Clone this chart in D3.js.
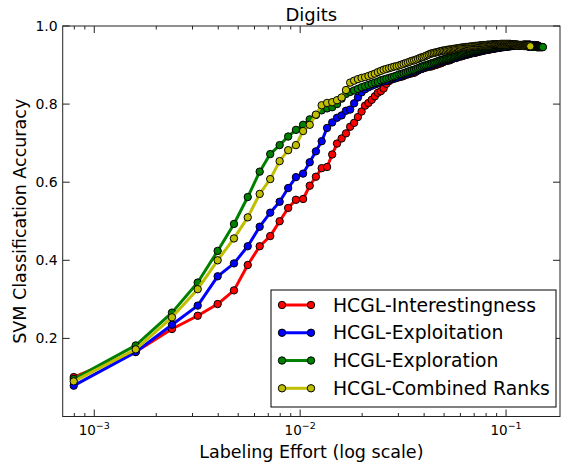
<!DOCTYPE html>
<html>
<head>
<meta charset="utf-8">
<script src="https://cdn.jsdelivr.net/npm/d3@7"></script>
<style>
  html, body { margin: 0; padding: 0; background: #fff; }
  svg { display: block; font-family: "DejaVu Sans", sans-serif; }
</style>
</head>
<body>
<svg id="chart" width="563" height="467"></svg>
<script>
// Accuracy after each newly labeled sample (index 0 = 1 labeled sample).
const POOL_SIZE = 1258;

const interestingness = [
  0.101, 0.166, 0.224, 0.258, 0.288, 0.323, 0.388, 0.436, 0.462, 0.500,
  0.534, 0.555, 0.557, 0.591, 0.614, 0.636, 0.639, 0.671, 0.699, 0.712,
  0.725, 0.742, 0.752, 0.767, 0.781, 0.796, 0.803, 0.811, 0.820, 0.829,
  0.833, 0.840, 0.852, 0.859, 0.863, 0.865, 0.867, 0.869, 0.870, 0.872,
  0.875, 0.876, 0.878, 0.879, 0.880, 0.883, 0.886, 0.889, 0.890, 0.892,
  0.893, 0.895, 0.896, 0.896, 0.897, 0.899, 0.900, 0.901, 0.903, 0.904,
  0.905, 0.907, 0.909, 0.910, 0.911, 0.912, 0.912, 0.914, 0.916, 0.917,
  0.918, 0.918, 0.920, 0.921, 0.922, 0.922, 0.923, 0.924, 0.925, 0.926,
  0.927, 0.927, 0.928, 0.929, 0.930, 0.930, 0.931, 0.932, 0.931, 0.933,
  0.933, 0.934, 0.935, 0.935, 0.935, 0.936, 0.937, 0.937, 0.938, 0.938,
  0.939, 0.939, 0.939, 0.940, 0.940, 0.941, 0.941, 0.942, 0.942, 0.942,
  0.943, 0.943, 0.943, 0.944, 0.944, 0.944, 0.945, 0.945, 0.945, 0.946,
  0.946, 0.946, 0.946, 0.947, 0.947, 0.947, 0.947, 0.948, 0.948, 0.948,
  0.948, 0.948, 0.949, 0.949, 0.949, 0.949, 0.949, 0.950, 0.950, 0.950,
  0.950, 0.950, 0.950, 0.951, 0.951, 0.951, 0.951, 0.951, 0.951, 0.951,
  0.951, 0.952, 0.952, 0.952, 0.952, 0.952, 0.952, 0.952, 0.952, 0.952,
  0.952, 0.952, 0.952, 0.952, 0.952, 0.951, 0.951, 0.951, 0.951, 0.951,
  0.951, 0.951, 0.951, 0.950, 0.950, 0.950, 0.950, 0.950, 0.950, 0.950
];

const exploitation = [
  0.079, 0.165, 0.235, 0.284, 0.359, 0.392, 0.436, 0.486, 0.522, 0.550,
  0.585, 0.613, 0.622, 0.651, 0.679, 0.705, 0.739, 0.753, 0.765, 0.771,
  0.783, 0.786, 0.802, 0.817, 0.830, 0.838, 0.843, 0.847, 0.850, 0.853,
  0.856, 0.858, 0.860, 0.862, 0.864, 0.866, 0.868, 0.870, 0.872, 0.874,
  0.876, 0.878, 0.880, 0.882, 0.884, 0.886, 0.888, 0.889, 0.891, 0.893,
  0.895, 0.896, 0.898, 0.899, 0.901, 0.902, 0.904, 0.905, 0.906, 0.908,
  0.909, 0.910, 0.911, 0.912, 0.913, 0.914, 0.915, 0.916, 0.917, 0.918,
  0.919, 0.920, 0.921, 0.922, 0.923, 0.924, 0.925, 0.926, 0.927, 0.928,
  0.929, 0.929, 0.930, 0.931, 0.932, 0.932, 0.933, 0.934, 0.934, 0.935,
  0.935, 0.936, 0.936, 0.937, 0.937, 0.938, 0.938, 0.939, 0.939, 0.940,
  0.940, 0.941, 0.941, 0.941, 0.942, 0.942, 0.943, 0.943, 0.943, 0.944,
  0.944, 0.944, 0.945, 0.945, 0.945, 0.946, 0.946, 0.946, 0.946, 0.947,
  0.947, 0.947, 0.947, 0.948, 0.948, 0.948, 0.948, 0.948, 0.949, 0.949,
  0.949, 0.949, 0.949, 0.950, 0.950, 0.950, 0.950, 0.950, 0.950, 0.950,
  0.951, 0.951, 0.951, 0.951, 0.951, 0.951, 0.951, 0.951, 0.951, 0.951,
  0.951, 0.951, 0.951, 0.951, 0.951, 0.951, 0.951, 0.951, 0.950, 0.950,
  0.950, 0.950, 0.950, 0.950, 0.950, 0.950, 0.950, 0.950, 0.950, 0.950,
  0.950, 0.950, 0.950, 0.950, 0.949, 0.949, 0.949, 0.949, 0.949, 0.949
];

const exploration = [
  0.096, 0.182, 0.266, 0.343, 0.424, 0.493, 0.562, 0.627, 0.672, 0.695,
  0.717, 0.734, 0.747, 0.761, 0.772, 0.784, 0.789, 0.792, 0.800, 0.814,
  0.826, 0.831, 0.835, 0.839, 0.843, 0.846, 0.849, 0.852, 0.855, 0.857,
  0.861, 0.863, 0.865, 0.867, 0.869, 0.871, 0.873, 0.876, 0.877, 0.879,
  0.881, 0.883, 0.885, 0.887, 0.888, 0.890, 0.892, 0.894, 0.896, 0.898,
  0.899, 0.900, 0.902, 0.903, 0.905, 0.906, 0.907, 0.909, 0.910, 0.912,
  0.913, 0.914, 0.915, 0.916, 0.917, 0.918, 0.919, 0.920, 0.921, 0.922,
  0.923, 0.924, 0.925, 0.926, 0.927, 0.928, 0.929, 0.930, 0.931, 0.931,
  0.932, 0.933, 0.934, 0.934, 0.935, 0.936, 0.936, 0.937, 0.938, 0.938,
  0.939, 0.939, 0.940, 0.940, 0.941, 0.941, 0.942, 0.942, 0.943, 0.943,
  0.944, 0.944, 0.944, 0.945, 0.945, 0.945, 0.946, 0.946, 0.946, 0.947,
  0.947, 0.947, 0.948, 0.948, 0.948, 0.948, 0.949, 0.949, 0.949, 0.949,
  0.950, 0.950, 0.950, 0.950, 0.950, 0.951, 0.951, 0.951, 0.951, 0.951,
  0.951, 0.951, 0.951, 0.951, 0.951, 0.951, 0.951, 0.951, 0.951, 0.951,
  0.951, 0.951, 0.950, 0.950, 0.950, 0.950, 0.950, 0.950, 0.950, 0.950,
  0.950, 0.950, 0.949, 0.949, 0.949, 0.949, 0.949, 0.949, 0.949, 0.949,
  0.948, 0.948, 0.948, 0.948, 0.948, 0.948, 0.948, 0.948, 0.947, 0.947,
  0.947, 0.947, 0.947, 0.947, 0.947, 0.947, 0.946, 0.946, 0.946, 0.946,
  0.946, 0.946, 0.946, 0.946, 0.946, 0.946, 0.946, 0.946, 0.946, 0.946
];

const combinedRanks = [
  0.090, 0.172, 0.254, 0.326, 0.400, 0.456, 0.510, 0.570, 0.608, 0.654,
  0.682, 0.695, 0.731, 0.747, 0.773, 0.797, 0.803, 0.805, 0.810, 0.817,
  0.836, 0.855, 0.860, 0.864, 0.867, 0.869, 0.872, 0.875, 0.878, 0.882,
  0.885, 0.888, 0.890, 0.892, 0.894, 0.896, 0.897, 0.899, 0.901, 0.903,
  0.905, 0.907, 0.909, 0.911, 0.912, 0.914, 0.916, 0.918, 0.920, 0.921,
  0.923, 0.925, 0.927, 0.929, 0.930, 0.931, 0.932, 0.933, 0.934, 0.935,
  0.936, 0.937, 0.937, 0.938, 0.939, 0.939, 0.940, 0.940, 0.941, 0.941,
  0.942, 0.942, 0.943, 0.943, 0.944, 0.944, 0.945, 0.945, 0.945, 0.946,
  0.946, 0.946, 0.947, 0.947, 0.947, 0.948, 0.948, 0.948, 0.949, 0.949,
  0.949, 0.949, 0.950, 0.950, 0.950, 0.950, 0.951, 0.951, 0.951, 0.951,
  0.951, 0.952, 0.952, 0.952, 0.952, 0.952, 0.952, 0.953, 0.953, 0.953,
  0.953, 0.953, 0.953, 0.953, 0.953, 0.953, 0.953, 0.954, 0.954, 0.954,
  0.954, 0.954, 0.954, 0.954, 0.954, 0.954, 0.954, 0.954, 0.954, 0.954,
  0.954, 0.954, 0.953, 0.953, 0.953, 0.953, 0.953, 0.953, 0.953, 0.952,
  0.952, 0.952, 0.952, 0.952, 0.951, 0.951, 0.951, 0.951, 0.951, 0.950,
  0.950, 0.950, 0.950, 0.950, 0.949, 0.949, 0.949, 0.949, 0.949, 0.948,
  0.948, 0.948, 0.948, 0.948, 0.948
];

const seriesNames = ["HCGL-Interestingness", "HCGL-Exploitation", "HCGL-Exploration", "HCGL-Combined Ranks"];
const seriesColors = ["#ff0000", "#0000ff", "#008000", "#bfbf00"];
const seriesValues = [interestingness, exploitation, exploration, combinedRanks];

const yTickValues = [0.2, 0.4, 0.6, 0.8, 1.0];
const xMajorTicks = [1e-3, 1e-2, 1e-1];
const xTickExponents = ["-3", "-2", "-1"];

const title = "Digits";
const xLabel = "Labeling Effort (log scale)";
const yLabel = "SVM Classification Accuracy";

// ---- layout ----
const plot = { left: 62.7, right: 560, top: 26, bottom: 416.5 };

const x = d3.scaleLog().domain([7.025e-4, 0.1828]).range([plot.left, plot.right]);
const y = d3.scaleLinear().domain([0, 1]).range([plot.bottom, plot.top]);

const svg = d3.select("#chart");

const series = seriesValues.map((vals, s) => ({
  name: seriesNames[s],
  color: seriesColors[s],
  points: vals.map((v, i) => ({ effort: (i + 1) / POOL_SIZE, acc: v }))
}));

// clip data to the axes box
svg.append("defs").append("clipPath").attr("id", "plotClip")
  .append("rect")
  .attr("x", plot.left).attr("y", plot.top)
  .attr("width", plot.right - plot.left).attr("height", plot.bottom - plot.top);

const dataLayer = svg.append("g").attr("clip-path", "url(#plotClip)");

const line = d3.line().x(d => x(d.effort)).y(d => y(d.acc));

series.forEach(s => {
  const g = dataLayer.append("g");
  g.append("path")
    .datum(s.points)
    .attr("d", line)
    .attr("fill", "none")
    .attr("stroke", s.color)
    .attr("stroke-width", 3)
    .attr("stroke-linejoin", "round");
  g.selectAll("circle")
    .data(s.points)
    .join("circle")
    .attr("cx", d => x(d.effort))
    .attr("cy", d => y(d.acc))
    .attr("r", 3.7)
    .attr("fill", s.color)
    .attr("stroke", "#000")
    .attr("stroke-width", 1);
});

// ---- axes frame and ticks (inward, mirrored on opposite sides) ----
const axisColor = "#222";
const frame = svg.append("g");

const [d0, d1] = x.domain();
const minorX = [];
for (let e = -4; e <= 0; e++) {
  for (let m = 2; m <= 9; m++) {
    const v = m * Math.pow(10, e);
    if (v >= d0 && v <= d1) minorX.push(v);
  }
}

function vTick(xv, len) {
  frame.append("line")
    .attr("x1", x(xv)).attr("x2", x(xv))
    .attr("y1", plot.bottom).attr("y2", plot.bottom - len)
    .attr("stroke", axisColor).attr("stroke-width", 1);
  frame.append("line")
    .attr("x1", x(xv)).attr("x2", x(xv))
    .attr("y1", plot.top).attr("y2", plot.top + len)
    .attr("stroke", axisColor).attr("stroke-width", 1);
}
xMajorTicks.forEach(v => vTick(v, 7));
minorX.forEach(v => vTick(v, 3.5));

yTickValues.forEach(v => {
  frame.append("line")
    .attr("x1", plot.left).attr("x2", plot.left + 7)
    .attr("y1", y(v)).attr("y2", y(v))
    .attr("stroke", axisColor).attr("stroke-width", 1);
  frame.append("line")
    .attr("x1", plot.right).attr("x2", plot.right - 7)
    .attr("y1", y(v)).attr("y2", y(v))
    .attr("stroke", axisColor).attr("stroke-width", 1);
});

frame.append("rect")
  .attr("x", plot.left).attr("y", plot.top)
  .attr("width", plot.right - plot.left).attr("height", plot.bottom - plot.top)
  .attr("fill", "none").attr("stroke", axisColor).attr("stroke-width", 1);

// ---- tick labels ----
const fmt = d3.format(".1f");
svg.append("g").selectAll("text")
  .data(yTickValues)
  .join("text")
  .attr("x", plot.left - 5)
  .attr("y", d => y(d) + 5)
  .attr("text-anchor", "end")
  .attr("font-size", 14)
  .attr("fill", "#000")
  .text(d => fmt(d));

const xl = svg.append("g").selectAll("text")
  .data(xMajorTicks)
  .join("text")
  .attr("x", d => x(d))
  .attr("y", 435)
  .attr("text-anchor", "middle")
  .attr("font-size", 13.5)
  .attr("fill", "#000");
xl.append("tspan").text("10");
xl.append("tspan")
  .attr("dy", -6)
  .attr("font-size", 9.5)
  .text((d, i) => xTickExponents[i].replace("-", "\u2212"));

// ---- titles ----
svg.append("text")
  .attr("x", (plot.left + plot.right) / 2).attr("y", 21)
  .attr("text-anchor", "middle").attr("font-size", 18)
  .text(title);

svg.append("text")
  .attr("x", (plot.left + plot.right) / 2).attr("y", 458)
  .attr("text-anchor", "middle").attr("font-size", 17.5)
  .text(xLabel);

svg.append("text")
  .attr("transform", `translate(26,${(plot.top + plot.bottom) / 2}) rotate(-90)`)
  .attr("text-anchor", "middle").attr("font-size", 17.5)
  .text(yLabel);

// ---- legend ----
const legend = svg.append("g");
legend.append("rect")
  .attr("x", 271).attr("y", 290)
  .attr("width", 285).attr("height", 117)
  .attr("fill", "#fff").attr("stroke", "#000").attr("stroke-width", 1);

const rowY = d3.scalePoint().domain(seriesNames).range([305, 388.3]);
series.forEach(s => {
  const cy = rowY(s.name);
  legend.append("line")
    .attr("x1", 282).attr("x2", 311).attr("y1", cy).attr("y2", cy)
    .attr("stroke", s.color).attr("stroke-width", 3);
  [282, 311].forEach(cx => legend.append("circle")
    .attr("cx", cx).attr("cy", cy).attr("r", 3.7)
    .attr("fill", s.color).attr("stroke", "#000").attr("stroke-width", 1));
  legend.append("text")
    .attr("x", 333).attr("y", cy + 6.5)
    .attr("font-size", 18.8)
    .text(s.name);
});
</script>
</body>
</html>
